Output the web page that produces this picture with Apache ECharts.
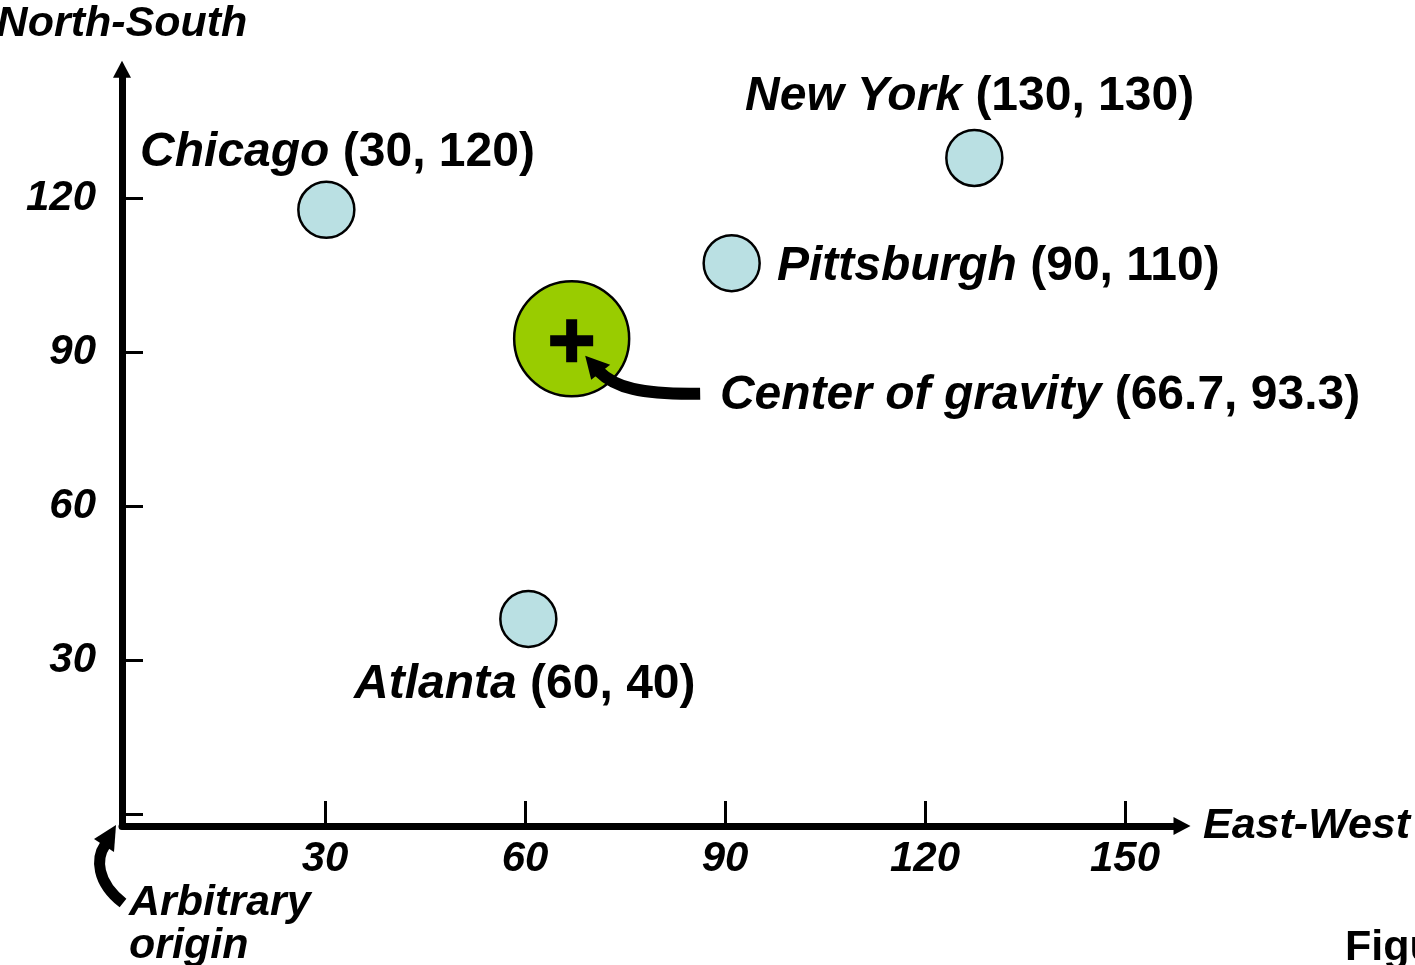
<!DOCTYPE html>
<html><head><meta charset="utf-8">
<script src="https://cdn.jsdelivr.net/npm/echarts@6/dist/echarts.min.js"></script>
<style>html,body{margin:0;padding:0;background:#fff;overflow:hidden}#c{width:1415px;height:965px}</style>
</head><body><div id="c"></div>
<script>
// ---- data ----
const cityNames = ['Chicago', 'New York', 'Pittsburgh', 'Atlanta'];
const cityX = [30.2, 127.4, 91.0, 60.5];
const cityY = [117.7, 127.8, 107.3, 38.0];
const cityCoordText = ['(30, 120)', '(130, 130)', '(90, 110)', '(60, 40)'];
const centerName = 'Center of gravity';
const centerX = [67.0];
const centerY = [92.6];
const centerCoordText = '(66.7, 93.3)';
const xTickValues = [30, 60, 90, 120, 150];
const yTickValues = [0, 30, 60, 90, 120];
const yLabelValues = [30, 60, 90, 120];
const xAxisTitle = 'East-West';
const yAxisTitle = 'North-South';
const originNote = ['Arbitrary', 'origin'];
const figureNote = 'Figure';

// ---- layout / style ----
const FONT = "'Liberation Sans', Arial, Helvetica, sans-serif";
const X_MIN = -0.45, X_MAX = 158.25, Y_MIN = -2.338, Y_MAX = 144.7;
const labelPos = {
  'Chicago': [-157, -28],
  'New York': [-200, -31.5],
  'Pittsburgh': [74.5, 33],
  'Atlanta': [-145, 95]
};
const centerLabelPos = [207, 116];
const richStyles = {
  n: {fontFamily: FONT, fontSize: 48, fontWeight: 'bold', fontStyle: 'italic', color: '#000', lineHeight: 50},
  c: {fontFamily: FONT, fontSize: 48, fontWeight: 'bold', fontStyle: 'normal', color: '#000', lineHeight: 50}
};
const tickFont = {fontFamily: FONT, fontSize: 42, fontWeight: 'bold', fontStyle: 'italic', color: '#000'};
const titleFont = {fontFamily: FONT, fontSize: 43, fontWeight: 'bold', fontStyle: 'italic', color: '#000'};

const chart = echarts.init(document.getElementById('c'), null, {renderer: 'canvas'});

const axisLineCommon = {
  show: true, onZero: false, symbol: ['none', 'triangle'], symbolSize: [18, 17], symbolOffset: [0, 2],
  lineStyle: {color: '#000', width: 7}
};

chart.setOption({
  animation: false,
  backgroundColor: '#fff',
  grid: {left: 122, top: 71.2, width: 1058, height: 754.8, containLabel: false, outerBoundsMode: 'none'},
  xAxis: {
    type: 'value', min: X_MIN, max: X_MAX,
    axisLine: axisLineCommon,
    axisTick: {show: true, inside: true, length: 25, customValues: xTickValues, lineStyle: {color: '#000', width: 3}},
    axisLabel: Object.assign({show: true, margin: 12, customValues: xTickValues}, tickFont),
    splitLine: {show: false},
    name: xAxisTitle, nameLocation: 'end', nameGap: 23,
    nameTextStyle: Object.assign({padding: [12, 0, 0, 0]}, titleFont)
  },
  yAxis: {
    type: 'value', min: Y_MIN, max: Y_MAX,
    axisLine: axisLineCommon,
    axisTick: {show: true, inside: true, length: 21, customValues: yTickValues, lineStyle: {color: '#000', width: 3}},
    axisLabel: Object.assign({show: true, margin: 26, customValues: yLabelValues}, tickFont),
    splitLine: {show: false},
    name: yAxisTitle, nameLocation: 'end', nameGap: 26,
    nameTextStyle: titleFont
  },
  series: [
    {
      type: 'scatter', silent: true, symbol: 'circle', symbolSize: 56,
      itemStyle: {color: '#bae0e3', borderColor: '#000', borderWidth: 2.5, opacity: 1},
      data: cityNames.map((n, i) => ({
        name: n, value: [cityX[i], cityY[i]],
        label: {position: labelPos[n]}
      })),
      label: {
        show: true, align: 'left', verticalAlign: 'middle',
        formatter: p => '{n|' + cityNames[p.dataIndex] + '}{c| ' + cityCoordText[p.dataIndex] + '}',
        rich: richStyles
      },
      emphasis: {disabled: true}
    },
    {
      type: 'scatter', silent: true, symbol: 'circle', symbolSize: 115,
      itemStyle: {color: '#99cc00', borderColor: '#000', borderWidth: 2.5, opacity: 1},
      data: centerX.map((x, i) => ({name: centerName, value: [x, centerY[i]]})),
      label: {
        show: true, position: centerLabelPos, align: 'left', verticalAlign: 'middle',
        formatter: () => '{n|' + centerName + '}{c| ' + centerCoordText + '}',
        rich: richStyles
      },
      emphasis: {disabled: true}
    },
    {
      type: 'scatter', silent: true, z: 5,
      symbol: 'path://M16,0H27V16H43V27H27V43H16V27H0V16H16Z',
      symbolSize: 43, symbolOffset: [0, 2],
      itemStyle: {color: '#000', opacity: 1},
      data: centerX.map((x, i) => [x, centerY[i]]),
      emphasis: {disabled: true}
    }
  ]
});

// annotation arrows and notes, positioned from the axes' own scale
const c = chart.convertToPixel({gridIndex: 0}, [centerX[0], centerY[0]]);
const k = chart.convertToPixel({gridIndex: 0}, [X_MIN, Y_MIN]);
chart.setOption({
  graphic: [
    {type: 'bezierCurve', silent: true, z: 10,
      shape: {x1: c[0] + 26.5, y1: c[1] + 32, cpx1: c[0] + 43.5, cpy1: c[1] + 49,
              cpx2: c[0] + 68.5, cpy2: c[1] + 56, x2: c[0] + 128.5, y2: c[1] + 55},
      style: {stroke: '#000', lineWidth: 12, fill: null}},
    {type: 'polygon', silent: true, z: 10,
      shape: {points: [[c[0] + 13.5, c[1] + 17], [c[0] + 19.5, c[1] + 41], [c[0] + 38.5, c[1] + 26]]},
      style: {fill: '#000'}},
    {type: 'bezierCurve', silent: true, z: 10,
      shape: {x1: k[0] - 17, y1: k[1] + 19, cpx1: k[0] - 26, cpy1: k[1] + 32,
              cpx2: k[0] - 26, cpy2: k[1] + 56, x2: k[0] + 1, y2: k[1] + 77},
      style: {stroke: '#000', lineWidth: 11, fill: null}},
    {type: 'polygon', silent: true, z: 10,
      shape: {points: [[k[0] - 6, k[1] - 1], [k[0] - 28, k[1] + 13], [k[0] - 8, k[1] + 26]]},
      style: {fill: '#000'}},
    {type: 'text', silent: true, z: 10,
      style: {text: originNote[0], x: k[0] + 7, y: k[1] + 77, verticalAlign: 'middle', align: 'left',
               fontFamily: FONT, fontSize: 43, fontWeight: 'bold', fontStyle: 'italic', fill: '#000'}},
    {type: 'text', silent: true, z: 10,
      style: {text: originNote[1], x: k[0] + 7, y: k[1] + 120, verticalAlign: 'middle', align: 'left',
               fontFamily: FONT, fontSize: 43, fontWeight: 'bold', fontStyle: 'italic', fill: '#000'}},
    {type: 'text', silent: true, z: 10,
      style: {text: figureNote, x: 1345, y: 948, verticalAlign: 'middle', align: 'left',
               fontFamily: FONT, fontSize: 43, fontWeight: 'bold', fontStyle: 'normal', fill: '#000'}}
  ]
});
</script>
</body></html>
